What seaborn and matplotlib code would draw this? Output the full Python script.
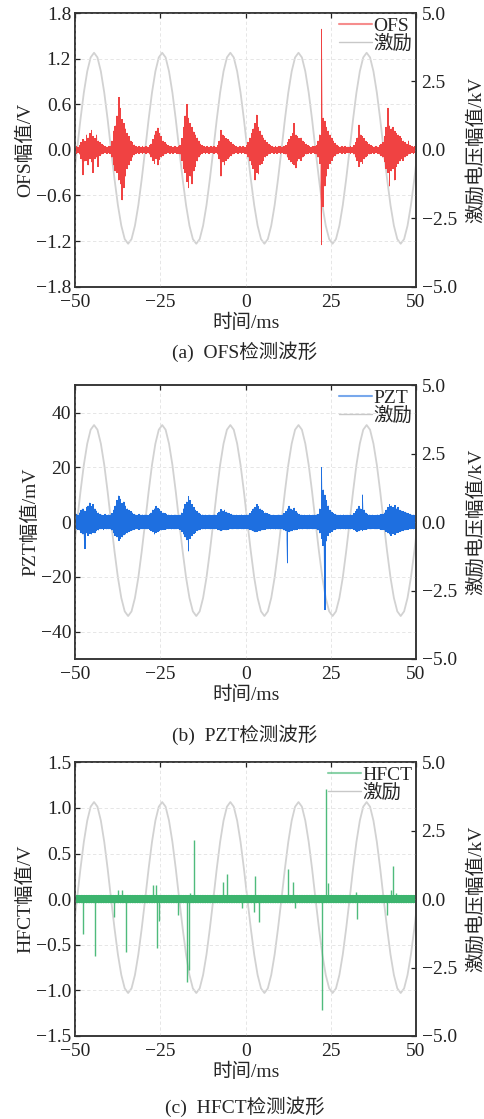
import numpy as np
import pandas as pd
import seaborn as sns
import matplotlib.pyplot as plt
from matplotlib.lines import Line2D

# ---- data (0.5 ms min/max bins, -50..50 ms) ----
bin_t = np.arange(-49.75, 50, 0.5)

ofs_hi = [0.05, 0.04, 0.06, 0.10, 0.14, 0.12, 0.20, 0.16, 0.22, 0.26, 0.18, 0.15, 0.20, 0.12, 0.10, 0.08, 0.06, 0.05, 0.04, 0.05,
          0.05, 0.12, 0.25, 0.32, 0.45, 0.69, 0.55, 0.40, 0.35, 0.28, 0.22, 0.18, 0.12, 0.10, 0.07, 0.05, 0.04, 0.05, 0.04, 0.05,
          0.04, 0.05, 0.04, 0.06, 0.08, 0.14, 0.20, 0.25, 0.29, 0.22, 0.18, 0.12, 0.10, 0.08, 0.06, 0.05, 0.05, 0.04, 0.05, 0.04,
          0.05, 0.06, 0.15, 0.30, 0.45, 0.60, 0.42, 0.35, 0.30, 0.24, 0.20, 0.16, 0.12, 0.08, 0.06, 0.05, 0.04, 0.05, 0.04, 0.05,
          0.04, 0.05, 0.04, 0.06, 0.12, 0.26, 0.20, 0.18, 0.15, 0.14, 0.12, 0.10, 0.08, 0.06, 0.05, 0.04, 0.05, 0.04, 0.05, 0.04,
          0.06, 0.10, 0.16, 0.22, 0.28, 0.35, 0.46, 0.30, 0.25, 0.20, 0.16, 0.13, 0.10, 0.08, 0.06, 0.05, 0.04, 0.05, 0.04, 0.05,
          0.05, 0.04, 0.05, 0.06, 0.10, 0.14, 0.18, 0.22, 0.35, 0.20, 0.18, 0.15, 0.16, 0.12, 0.10, 0.08, 0.06, 0.05, 0.04, 0.05,
          0.05, 0.06, 0.12, 0.20, 1.59, 0.42, 0.38, 0.30, 0.25, 0.20, 0.16, 0.12, 0.09, 0.07, 0.05, 0.04, 0.05, 0.04, 0.05, 0.04,
          0.04, 0.05, 0.04, 0.06, 0.10, 0.16, 0.33, 0.20, 0.18, 0.15, 0.12, 0.10, 0.08, 0.06, 0.05, 0.04, 0.05, 0.04, 0.06, 0.08,
          0.10, 0.18, 0.30, 0.55, 0.32, 0.28, 0.30, 0.25, 0.22, 0.20, 0.18, 0.15, 0.12, 0.10, 0.08, 0.12, 0.06, 0.05, 0.04, 0.05]
ofs_lo = [-0.05, -0.04, -0.06, -0.12, -0.33, -0.15, -0.14, -0.20, -0.12, -0.16, -0.30, -0.12, -0.10, -0.22, -0.08, -0.06, -0.05, -0.04, -0.05, -0.04,
          -0.05, -0.10, -0.20, -0.28, -0.30, -0.40, -0.45, -0.66, -0.50, -0.35, -0.25, -0.20, -0.14, -0.10, -0.07, -0.05, -0.04, -0.05, -0.04, -0.05,
          -0.04, -0.05, -0.04, -0.06, -0.10, -0.14, -0.18, -0.12, -0.20, -0.13, -0.10, -0.08, -0.06, -0.05, -0.04, -0.05, -0.04, -0.05, -0.04, -0.05,
          -0.05, -0.06, -0.14, -0.25, -0.30, -0.42, -0.50, -0.35, -0.45, -0.28, -0.22, -0.15, -0.10, -0.07, -0.05, -0.04, -0.05, -0.04, -0.05, -0.04,
          -0.04, -0.05, -0.04, -0.06, -0.12, -0.35, -0.16, -0.20, -0.14, -0.12, -0.10, -0.08, -0.06, -0.05, -0.04, -0.05, -0.04, -0.05, -0.04, -0.05,
          -0.06, -0.10, -0.15, -0.20, -0.25, -0.40, -0.30, -0.32, -0.20, -0.18, -0.14, -0.10, -0.08, -0.06, -0.05, -0.04, -0.05, -0.04, -0.05, -0.04,
          -0.05, -0.04, -0.05, -0.06, -0.10, -0.13, -0.16, -0.18, -0.20, -0.24, -0.15, -0.12, -0.14, -0.10, -0.08, -0.06, -0.05, -0.04, -0.05, -0.04,
          -0.05, -0.06, -0.10, -0.18, -1.25, -0.75, -0.48, -0.35, -0.25, -0.18, -0.14, -0.10, -0.08, -0.06, -0.05, -0.04, -0.05, -0.04, -0.05, -0.04,
          -0.04, -0.05, -0.04, -0.06, -0.10, -0.14, -0.22, -0.16, -0.18, -0.12, -0.10, -0.08, -0.06, -0.05, -0.04, -0.05, -0.04, -0.05, -0.06, -0.08,
          -0.10, -0.16, -0.25, -0.30, -0.48, -0.28, -0.25, -0.40, -0.22, -0.18, -0.15, -0.12, -0.14, -0.10, -0.08, -0.06, -0.05, -0.04, -0.05, -0.04]

pzt_hi = [3.0, 2.8, 3.5, 4.5, 5.0, 4.2, 5.5, 6.0, 7.1, 5.8, 6.5, 5.0, 4.2, 3.5, 3.0, 2.8, 2.5, 3.0, 2.6, 2.8,
          2.8, 3.2, 4.5, 6.0, 8.0, 9.7, 8.5, 7.0, 7.5, 6.0, 5.0, 4.5, 4.0, 3.5, 3.0, 2.8, 2.6, 3.0, 2.7, 2.8,
          2.7, 2.8, 2.6, 3.0, 3.5, 4.5, 5.0, 5.9, 5.2, 4.8, 4.0, 3.5, 3.2, 3.0, 2.8, 2.6, 2.7, 2.5, 2.8, 2.6,
          2.6, 2.8, 3.5, 5.0, 6.5, 7.5, 9.4, 8.0, 6.5, 5.5, 4.5, 4.0, 3.5, 3.0, 2.8, 2.6, 2.7, 2.5, 2.8, 2.6,
          2.6, 2.8, 2.7, 3.2, 3.8, 4.7, 4.2, 4.5, 3.8, 3.5, 3.2, 3.0, 2.8, 2.6, 2.7, 2.5, 2.6, 2.8, 2.5, 2.7,
          2.7, 2.8, 3.2, 4.0, 5.0, 5.5, 6.5, 5.8, 5.0, 4.5, 4.0, 3.5, 3.2, 3.0, 2.8, 2.6, 2.7, 2.5, 2.6, 2.8,
          2.6, 2.8, 3.2, 4.0, 5.0, 5.9, 5.0, 4.5, 5.2, 4.0, 3.5, 3.0, 2.8, 2.6, 2.7, 2.5, 2.6, 2.8, 2.5, 2.7,
          2.7, 2.8, 3.0, 5.0, 20.0, 11.9, 10.0, 8.0, 6.0, 4.5, 3.8, 3.2, 3.0, 2.8, 2.6, 2.7, 2.5, 2.8, 2.6, 2.7,
          2.6, 2.8, 2.7, 3.2, 4.0, 5.0, 5.9, 5.0, 10.1, 4.5, 3.5, 3.0, 2.8, 2.6, 2.7, 2.5, 2.6, 2.8, 2.7, 3.0,
          3.0, 3.5, 4.5, 5.5, 6.5, 6.0, 5.5, 6.2, 5.0, 5.5, 4.5, 4.2, 4.0, 3.8, 3.5, 3.2, 3.0, 2.8, 2.7, 2.8]
pzt_lo = [-2.5, -2.8, -3.0, -4.0, -4.5, -9.7, -4.0, -4.9, -4.2, -4.5, -3.8, -4.0, -3.2, -3.0, -2.6, -2.5, -2.8, -2.4, -2.6, -2.5,
          -2.6, -3.0, -4.0, -5.0, -5.5, -6.7, -6.0, -5.5, -4.8, -4.5, -4.0, -3.5, -3.2, -3.0, -2.8, -2.6, -2.5, -2.7, -2.6, -2.5,
          -2.5, -2.6, -2.5, -2.8, -3.2, -3.6, -4.5, -3.8, -3.5, -3.2, -3.0, -2.8, -2.7, -2.6, -2.5, -2.4, -2.6, -2.5, -2.6, -2.5,
          -2.5, -2.7, -3.5, -4.5, -5.5, -6.5, -10.7, -6.0, -5.0, -4.2, -3.8, -3.2, -3.0, -2.8, -2.6, -2.5, -2.6, -2.4, -2.5, -2.6,
          -2.5, -2.6, -2.5, -2.8, -3.0, -3.2, -3.0, -2.8, -2.9, -2.7, -2.6, -2.5, -2.6, -2.4, -2.5, -2.6, -2.4, -2.5, -2.6, -2.5,
          -2.5, -2.6, -2.8, -3.0, -3.4, -3.6, -3.5, -3.2, -3.3, -3.0, -2.8, -2.7, -2.6, -2.5, -2.6, -2.4, -2.5, -2.6, -2.5, -2.6,
          -2.5, -2.6, -3.0, -3.2, -15.0, -3.6, -3.4, -3.2, -3.0, -2.8, -2.7, -2.6, -2.5, -2.6, -2.4, -2.5, -2.6, -2.5, -2.4, -2.6,
          -2.5, -2.6, -3.0, -4.0, -6.0, -8.6, -32.0, -7.0, -5.0, -4.0, -3.5, -3.0, -2.8, -2.6, -2.5, -2.6, -2.4, -2.5, -2.6, -2.5,
          -2.5, -2.6, -2.5, -2.8, -3.2, -3.5, -3.3, -3.0, -3.2, -2.8, -2.7, -2.6, -2.5, -2.6, -2.4, -2.5, -2.6, -2.5, -2.6, -2.8,
          -2.8, -3.0, -3.5, -4.0, -4.5, -4.9, -4.2, -4.6, -4.0, -3.8, -3.5, -3.3, -3.2, -3.0, -2.8, -2.7, -2.6, -2.5, -2.6, -2.5]

# HFCT: flat noise band (half width per 10 ms) plus isolated pulses
hfct_band = [0.045, 0.045, 0.045, 0.045, 0.045, 0.045, 0.045, 0.045, 0.045, 0.045]
hfct_pulse_t = [-47.7, -44.2, -38.5, -37.5, -36.3, -35.2, -27.1, -26.4, -25.9, -25.5, -19.8, -17.2, -16.6,
                -16.3, -15.1, -6.7, -5.4, -1.2, 2.3, 2.7, 3.8, 12.5, 14.0, 14.6, 22.4, 23.5, 24.3, 32.4,
                32.8, 41.6, 42.6, 43.3, 44.0]
hfct_pulse_v = [-0.38, -0.62, -0.19, 0.10, 0.10, -0.58, 0.16, 0.16, -0.54, -0.24, -0.17, -0.91, -0.78,
                0.07, 0.65, 0.19, 0.28, -0.10, -0.14, 0.25, -0.25, 0.33, 0.19, -0.10, -1.21, 1.21, 0.18, 0.08,
                -0.22, -0.17, 0.10, 0.36, 0.07]

# excitation voltage (kV), one 20 ms cycle sampled every 1 ms, starting at a rising zero crossing
exc_cycle = [0.0, 1.10, 2.09, 2.87, 3.38, 3.55, 3.38, 2.87, 2.09, 1.10,
             0.0, -1.06, -2.02, -2.77, -3.26, -3.43, -3.26, -2.77, -2.02, -1.06]
exc_t = np.arange(-50.5, 50.6, 1.0)
exc_v = np.concatenate([[exc_cycle[-1]], np.tile(exc_cycle, 5), [exc_cycle[0]]])

x_ticks = [-50, -25, 0, 25, 50]
captions = ["(a)  OFS检测波形", "(b)  PZT检测波形", "(c)  HFCT检测波形"]


def minmax_frame(t, lo, hi):
    return pd.DataFrame({"t": np.repeat(t, 2),
                         "v": np.column_stack([lo, hi]).ravel()})


sns.set_style("white")
plt.rcParams["font.family"] = ["Liberation Serif", "Noto Sans CJK SC"]
plt.rcParams["font.size"] = 14
plt.rcParams["axes.unicode_minus"] = True

fig = plt.figure(figsize=(4.84, 11.19), dpi=100)

exc_df = pd.DataFrame({"t": exc_t, "v": exc_v})
hfct_hi = np.repeat(hfct_band, 20)

panels = [
    dict(bottom=0.7438, lo=ofs_lo, hi=ofs_hi, color="#f04242", name="OFS",
         ylim=(-1.8, 1.8), yticks=[-1.8, -1.2, -0.6, 0.0, 0.6, 1.2, 1.8], fmt="{:.1f}",
         ylabel="OFS幅值/V", cap_y=0.6854),
    dict(bottom=0.4111, lo=pzt_lo, hi=pzt_hi, color="#1e6fe0", name="PZT",
         ylim=(-50, 50), yticks=[-40, -20, 0, 20, 40], fmt="{:.0f}",
         ylabel="PZT幅值/mV", cap_y=0.3432),
    dict(bottom=0.0742, lo=-hfct_hi, hi=hfct_hi, color="#3cb46e", name="HFCT",
         ylim=(-1.5, 1.5), yticks=[-1.5, -1.0, -0.5, 0.0, 0.5, 1.0, 1.5], fmt="{:.1f}",
         ylabel="HFCT幅值/V", cap_y=0.011),
]

for i, p in enumerate(panels):
    ax = fig.add_axes([0.1556, p["bottom"], 0.704, 0.2445])
    ax2 = ax.twinx()

    sns.lineplot(data=exc_df, x="t", y="v", ax=ax2, color="#d2d2d2", lw=1.3,
                 estimator=None, sort=False)

    # solid min/max band with a thin min/max trace over it for the spiky edge
    ax.fill_between(bin_t, p["lo"], p["hi"], step="mid", color=p["color"], lw=0)
    sns.lineplot(data=minmax_frame(bin_t, p["lo"], p["hi"]), x="t", y="v", ax=ax,
                 color=p["color"], lw=0.5, alpha=0.6, estimator=None, sort=False)
    if p["name"] == "HFCT":
        ax.vlines(hfct_pulse_t, 0, hfct_pulse_v, color=p["color"], lw=1.0, alpha=0.9)

    # signal drawn above the excitation curve
    ax.set_zorder(ax2.get_zorder() + 1)
    ax.patch.set_visible(False)

    ax.set_xlim(-50, 50)
    ax.set_ylim(*p["ylim"])
    ax2.set_ylim(-5, 5)
    ax.set_xticks(x_ticks)
    ax.set_xticklabels([str(v).replace("-", "\u2212") for v in x_ticks])
    ax.set_yticks(p["yticks"])
    ax.set_yticklabels([p["fmt"].format(v).replace("-", "\u2212") for v in p["yticks"]])
    ax2.set_yticks([-5, -2.5, 0, 2.5, 5])
    ax2.set_yticklabels(["\u22125.0", "\u22122.5", "0.0", "2.5", "5.0"])

    ax.grid(True, ls=(0, (4, 3)), color="#e2e2e2", lw=0.6)
    ax.tick_params(direction="in", length=3.5, width=0.9, top=True, pad=3, colors="#222222")
    ax.tick_params(axis="x", pad=5)
    ax2.tick_params(direction="in", length=3.5, width=0.9, pad=4, colors="#222222")
    for a in (ax, ax2):
        for s in a.spines.values():
            s.set_color("#333333")
            s.set_linewidth(1.1)

    ax.set_xlabel("时间/ms", labelpad=2)
    ax.set_ylabel(p["ylabel"], labelpad=1)
    ax2.set_ylabel("激励电压幅值/kV", labelpad=7)

    handles = [Line2D([], [], color=p["color"], lw=1.5, alpha=0.6),
               Line2D([], [], color="#c8c8c8", lw=1.0)]
    ax.legend(handles, [p["name"], "激励"], loc="upper right", frameon=False,
              handlelength=1.7, handletextpad=0.05, labelspacing=0.0,
              borderaxespad=0.1, borderpad=0.1)

    fig.text(0.506, p["cap_y"], captions[i], ha="center", va="center")

fig.savefig("out.png", dpi=100)
